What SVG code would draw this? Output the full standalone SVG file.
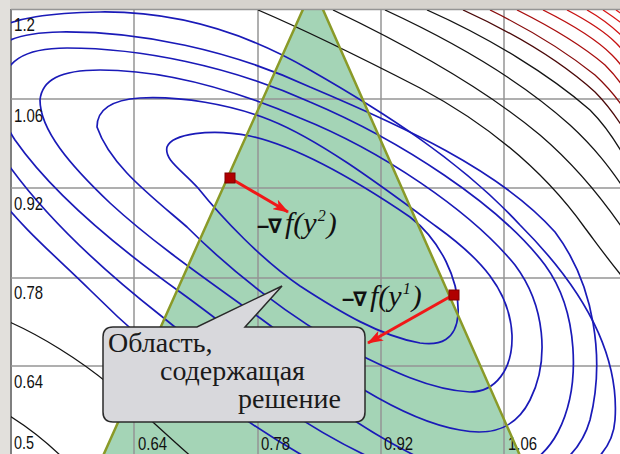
<svg xmlns="http://www.w3.org/2000/svg" width="620" height="454" viewBox="0 0 620 454">
<defs>
  <clipPath id="plot"><rect x="11" y="10" width="609" height="444"/></clipPath>
  <marker id="ah" viewBox="0 0 16 11" refX="15" refY="5.5" markerWidth="16" markerHeight="11" markerUnits="userSpaceOnUse" orient="auto">
    <path d="M0,0 L16,5.5 L0,11 L4,5.5 Z" fill="#f01818"/>
  </marker>
</defs>
<style>
  .grid{stroke:#959595;stroke-width:1.5;fill:none}
  .b{fill:none;stroke:#1a1ab8;stroke-width:1.7}
  .k{fill:none;stroke:#141414;stroke-width:1.3}
  .ax{font-family:"Liberation Sans",Arial,sans-serif;font-size:19px;fill:#111}
  .cal{font-family:"Liberation Serif","Times New Roman",serif;font-size:28px;fill:#1a1a1a}
  .it{font-family:"Liberation Serif","Times New Roman",serif;font-style:italic;fill:#111}
  .nab{font-family:"DejaVu Sans",sans-serif;font-weight:bold;fill:#111}
  .mn{font-family:"Liberation Sans",Arial,sans-serif;font-weight:bold;fill:#111}
  .arr{stroke:#f01818;stroke-width:3;fill:none}
  .pt{fill:#b00000;stroke:#800000;stroke-width:1}
</style>

<g id="background">
  <rect x="0" y="0" width="620" height="454" fill="#ffffff"/>
  <rect x="0" y="0" width="620" height="9" fill="#d6d3ce"/>
  <rect x="0" y="0" width="10" height="454" fill="#e2e0dc"/>
  <line x1="11" y1="9" x2="11" y2="454" stroke="#555" stroke-width="1.5"/>
</g>

<g id="region-fill" clip-path="url(#plot)">
  <polygon points="313,-13 94,476 529,476" fill="#a4d4b6"/>
</g>

<g id="grid">
  <line class="grid" x1="11" y1="9.5" x2="620" y2="9.5"/>
  <line class="grid" x1="134" y1="10" x2="134" y2="454"/>
  <line class="grid" x1="258" y1="10" x2="258" y2="454"/>
  <line class="grid" x1="381" y1="10" x2="381" y2="454"/>
  <line class="grid" x1="504" y1="10" x2="504" y2="454"/>
  <line class="grid" x1="11" y1="99" x2="620" y2="99"/>
  <line class="grid" x1="11" y1="188" x2="620" y2="188"/>
  <line class="grid" x1="11" y1="278" x2="620" y2="278"/>
  <line class="grid" x1="11" y1="366" x2="620" y2="366"/>
</g>

<g id="contours" clip-path="url(#plot)">
  <path class="b" d="M167,147 C172,134 210,128 250,136 C300,147 360,183 410,217 C440,240 460,280 458,315 C456,340 440,346 420,343 C380,336 340,312 300,286 C262,260 222,218 198,188 C182,170 164,160 167,147 Z"/>
  <path class="b" d="M97,127 C97,110 110,100 140,98 C180,96 230,104 270,120 C320,140 380,185 437,227 C480,258 510,290 512,335 C513,370 495,392 470,392 C430,390 390,370 350,350 C290,318 230,270 187,227 C150,195 110,165 97,127 Z"/>
  <path class="b" d="M40,100 C42,80 60,70 100,70 C160,70 230,88 300,118 C380,150 470,210 515,265 C545,305 550,360 530,400 C515,430 490,436 460,430 C400,420 330,370 260,318 C200,275 150,240 110,203 C70,165 40,130 40,100 Z"/>
  <path class="b" d="M0,95 C2,60 25,48 67,48 C140,48 230,66 310,102 C400,140 500,205 545,265 C578,310 582,385 558,432 C530,485 470,482 420,458 C340,420 260,350 180,292 C110,242 50,190 15,140 C5,125 0,110 0,95 Z"/>
  <path class="b" d="M-20,100 C-20,50 0,33 60,32 C140,31 230,50 310,87 C400,125 500,170 555,232 C595,285 605,360 590,420 C570,490 480,500 400,470 C320,440 240,380 160,315 C90,260 40,210 5,160 C-10,140 -20,120 -20,100 Z"/>
  <path class="b" d="M-40,100 C-40,30 0,14 100,12 C180,11 250,35 310,70 C380,110 460,160 520,225 C580,285 620,350 615,420 C610,500 450,520 330,470 C250,430 160,360 90,290 C40,240 -40,180 -40,100 Z"/>
  <path class="k" d="M258,10 C300,28 350,52 420,88 C480,120 540,165 585,228 C600,248 610,262 625,280"/>
  <path class="k" d="M333,10 C400,42 480,85 540,135 C575,165 600,195 625,232"/>
  <path class="k" d="M385,10 C450,40 520,80 570,125 C595,148 610,168 625,190"/>
  <path class="k" d="M427,10 C490,38 550,75 590,110 C605,125 615,140 625,158"/>
  <path class="k" d="M463,10 C520,36 565,65 595,92 C608,105 617,118 625,131" style="stroke:#4a0808"/>
  <path class="k" d="M490,10 C535,32 570,55 595,75 C608,87 617,98 625,110" style="stroke:#880c0c"/>
  <path class="k" d="M517,10 C555,29 585,48 605,65 C613,73 619,80 625,90" style="stroke:#a80e0e"/>
  <path class="k" d="M543,10 C575,26 598,41 612,55 C618,61 622,66 625,71" style="stroke:#bc1010"/>
  <path class="k" d="M567,10 C590,22 606,33 616,43 C620,47 623,51 625,54" style="stroke:#c81212"/>
  <path class="k" d="M587,10 C603,19 614,28 625,39" style="stroke:#d01414"/>
  <path class="k" d="M603,10 C612,16 619,21 625,26" style="stroke:#d81616"/>
  <path class="k" d="M616,10 C619,12 622,14 625,16" style="stroke:#e01818"/>
  <path class="k" d="M5,320 C40,335 80,360 110,385 C130,400 150,420 195,460"/>
  <path class="k" d="M5,413 C25,425 45,440 65,460"/>
</g>

<g id="axis-labels">
  <text class="ax" x="14" y="31" textLength="21" lengthAdjust="spacingAndGlyphs">1.2</text>
  <text class="ax" x="14" y="122" textLength="29" lengthAdjust="spacingAndGlyphs">1.06</text>
  <text class="ax" x="14" y="210" textLength="29" lengthAdjust="spacingAndGlyphs">0.92</text>
  <text class="ax" x="14" y="299" textLength="29" lengthAdjust="spacingAndGlyphs">0.78</text>
  <text class="ax" x="14" y="388" textLength="29" lengthAdjust="spacingAndGlyphs">0.64</text>
  <text class="ax" x="14" y="449" textLength="20" lengthAdjust="spacingAndGlyphs">0.5</text>
  <text class="ax" x="138" y="450" textLength="29" lengthAdjust="spacingAndGlyphs">0.64</text>
  <text class="ax" x="261" y="450" textLength="29" lengthAdjust="spacingAndGlyphs">0.78</text>
  <text class="ax" x="384" y="450" textLength="29" lengthAdjust="spacingAndGlyphs">0.92</text>
  <text class="ax" x="508" y="450" textLength="29" lengthAdjust="spacingAndGlyphs">1.06</text>
</g>

<g id="region" clip-path="url(#plot)">
  <path d="M94,476 L313,-13 L529,476" fill="none" stroke="#8a9a28" stroke-width="2.5"/>
</g>

<g id="connectors">
  <line class="arr" x1="230" y1="178" x2="288" y2="212" marker-end="url(#ah)"/>
  <line class="arr" x1="453" y1="295" x2="368" y2="343" marker-end="url(#ah)"/>
</g>

<g id="point-y2"><rect class="pt" x="225" y="173" width="10" height="10"/></g>
<g id="point-y1"><rect class="pt" x="449" y="290" width="10" height="10"/></g>

<g id="label-grad-y2">
  <text y="233"><tspan class="mn" font-size="22" x="257">–</tspan><tspan class="nab" font-size="20" x="268">∇</tspan><tspan class="it" font-size="30" x="285">f(y</tspan><tspan class="it" font-size="16" dx="1" dy="-12">2</tspan><tspan class="it" font-size="30" dx="1" dy="12">)</tspan></text>
</g>
<g id="label-grad-y1">
  <text y="306"><tspan class="mn" font-size="22" x="342">–</tspan><tspan class="nab" font-size="20" x="353">∇</tspan><tspan class="it" font-size="30" x="370">f(y</tspan><tspan class="it" font-size="16" dx="1" dy="-12">1</tspan><tspan class="it" font-size="30" dx="1" dy="12">)</tspan></text>
</g>

<g id="callout">
  <path d="M113,327 L197,327 L282,286 L245,327 L355,327 Q365,327 365,337 L365,412 Q365,422 355,422 L113,422 Q103,422 103,412 L103,337 Q103,327 113,327 Z" fill="#d8d8dc" stroke="#2a2a2a" stroke-width="1.5"/>
  <text class="cal" x="108" y="352">Область,</text>
  <text class="cal" x="160" y="380">содержащая</text>
  <text class="cal" x="238" y="408">решение</text>
</g>
</svg>
